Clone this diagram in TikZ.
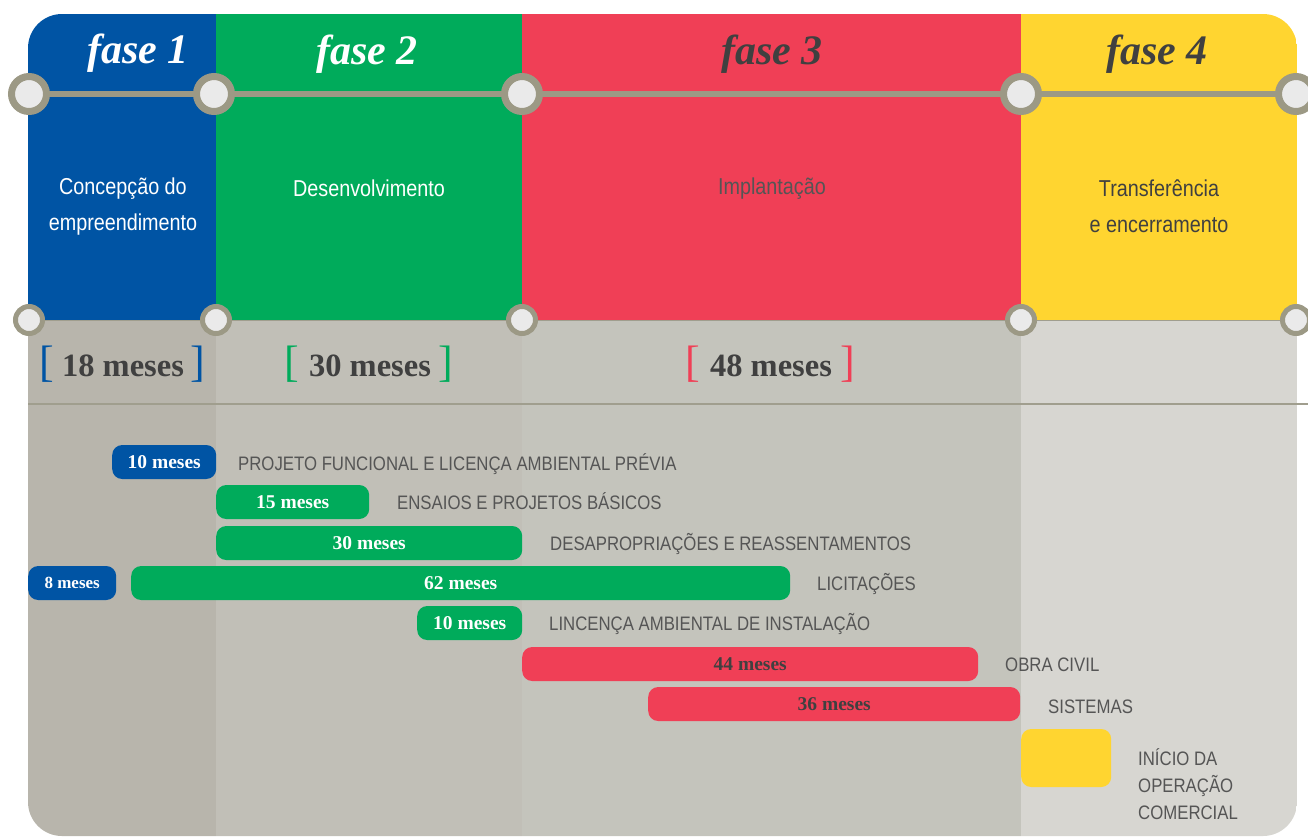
\documentclass[tikz,border=0pt]{standalone}
\usepackage{fontspec}
\setmainfont{Liberation Serif}
\newfontfamily\labfont[FakeStretch=0.86]{Liberation Sans}
\definecolor{fblue}{HTML}{0054A4}
\definecolor{fgreen}{HTML}{00AB5B}
\definecolor{fred}{HTML}{F03F56}
\definecolor{fyellow}{HTML}{FFD530}
\definecolor{ringgray}{HTML}{9C9985}
\definecolor{ringin}{HTML}{EAEAEA}
\definecolor{colA}{HTML}{B8B5AC}
\definecolor{colB}{HTML}{C1BFB7}
\definecolor{colC}{HTML}{C4C4BC}
\definecolor{colD}{HTML}{D7D6D1}
\definecolor{darktext}{HTML}{404040}
\definecolor{labtext}{HTML}{555555}
\definecolor{rule}{HTML}{A09E8E}
\begin{document}
\begin{tikzpicture}[x=1pt,y=-1pt,
  ringbig/.style={circle,draw=ringgray,fill=ringin,line width=7pt,minimum size=35pt,inner sep=0pt},
  ringsmall/.style={circle,draw=ringgray,fill=ringin,line width=5pt,minimum size=27pt,inner sep=0pt},
  fasetitle/.style={font=\fontsize{42}{42}\selectfont\bfseries\itshape,anchor=base,inner sep=0pt},
  phasedesc/.style={font=\labfont\fontsize{23}{36}\selectfont,align=center,inner sep=0pt},
  months/.style={font=\fontsize{32.5}{32.5}\selectfont\bfseries,text=darktext,inner sep=0pt},
  bracket/.style={font=\fontsize{44}{44}\selectfont,inner sep=0pt},
  bar/.style={rounded corners=10pt,minimum height=34pt,inner sep=0pt,anchor=west,
    font=\fontsize{19.5}{19.5}\selectfont\bfseries,text=white},
  tasklabel/.style={font=\labfont\fontsize{19.5}{27}\selectfont,text=labtext,anchor=base west,inner sep=0pt,align=left}
]
\useasboundingbox (0,0) rectangle (1308,839);
% panel
\begin{scope}
\clip[rounded corners=34pt] (28,14) rectangle (1297,836);
\fill[colA] (28,320) rectangle (216,840);
\fill[colB] (216,320) rectangle (522,840);
\fill[colC] (522,320) rectangle (1021,840);
\fill[colD] (1021,320) rectangle (1297,840);
\fill[fblue] (28,14) rectangle (216,320);
\fill[fgreen] (216,14) rectangle (522,320);
\fill[fred] (522,14) rectangle (1021,320);
\fill[fyellow] (1021,14) rectangle (1297,320);
\end{scope}
\draw[rule,line width=1pt] (28,320.5) -- (1297,320.5);
\draw[rule,line width=1.3pt] (28,404) -- (1308,404);
% top line and rings
\coordinate (t1) at (29,94);
\coordinate (t5) at (1296,94);
\draw[ringgray,line width=6pt] (t1) -- (t5);
\node[ringbig] (c1) at (29,94) {};
\node[ringbig] (c2) at (214,94) {};
\node[ringbig] (c3) at (522,94) {};
\node[ringbig] (c4) at (1021,94) {};
\node[ringbig] (c5) at (1296,94) {};
\node[ringsmall] (d1) at (29,320) {};
\node[ringsmall] (d2) at (216,320) {};
\node[ringsmall] (d3) at (522,320) {};
\node[ringsmall] (d4) at (1021,320) {};
\node[ringsmall] (d5) at (1296,320) {};
% titles
\node[fasetitle,text=white] (f1) at (138,63) {fase 1};
\node[fasetitle,text=white] (f2) at (367,64) {fase 2};
\node[fasetitle,text=darktext] (f3) at (772,64) {fase 3};
\node[fasetitle,text=darktext] (f4) at (1157,64) {fase 4};
% descriptions
\node[phasedesc,text=white] (p1) at (123,207) {Concepção do\\empreendimento};
\node[phasedesc,text=white] (p2) at (369,188) {Desenvolvimento};
\node[phasedesc,text=labtext] (p3) at (772,189) {Implantação};
\node[phasedesc,text=darktext] (p4) at (1159,206) {Transferência\\e encerramento};
% durations
\node[months] (m1) at (123,366) {18 meses};
\node[bracket,text=fblue] (m1l) at (47,364) {[};
\node[bracket,text=fblue] (m1r) at (198,364) {]};
\node[months] (m2) at (370,366) {30 meses};
\node[bracket,text=fgreen] (m2l) at (292,364) {[};
\node[bracket,text=fgreen] (m2r) at (446,364) {]};
\node[months] (m3) at (771,366) {48 meses};
\node[bracket,text=fred] (m3l) at (693,364) {[};
\node[bracket,text=fred] (m3r) at (848,364) {]};
% bars
\node[bar,fill=fblue,minimum width=104pt] (b1) at (112,462) {10 meses};
\node[tasklabel] (l1) at (238,470) {PROJETO FUNCIONAL E LICENÇA AMBIENTAL PRÉVIA};
\node[bar,fill=fgreen,minimum width=153pt] (b2) at (216,502) {15 meses};
\node[tasklabel] (l2) at (397,509) {ENSAIOS E PROJETOS BÁSICOS};
\node[bar,fill=fgreen,minimum width=306pt] (b3) at (216,543) {30 meses};
\node[tasklabel] (l3) at (550,550) {DESAPROPRIAÇÕES E REASSENTAMENTOS};
\node[bar,fill=fblue,minimum width=88pt,font=\fontsize{17}{17}\selectfont\bfseries] (b4a) at (28,583) {8 meses};
\node[bar,fill=fgreen,minimum width=659pt] (b4) at (131,583) {62 meses};
\node[tasklabel] (l4) at (817,590) {LICITAÇÕES};
\node[bar,fill=fgreen,minimum width=105pt] (b5) at (417,623) {10 meses};
\node[tasklabel] (l5) at (549,630) {LINCENÇA AMBIENTAL DE INSTALAÇÃO};
\node[bar,fill=fred,minimum width=456pt,text=darktext] (b6) at (522,664) {44 meses};
\node[tasklabel] (l6) at (1005,671) {OBRA CIVIL};
\node[bar,fill=fred,minimum width=372pt,text=darktext] (b7) at (648,704) {36 meses};
\node[tasklabel] (l7) at (1048,713) {SISTEMAS};
\node[bar,fill=fyellow,minimum width=90pt,minimum height=58pt] (b8) at (1021,758) {};
\node[tasklabel,anchor=north west] (l8) at (1138,748) {INÍCIO DA\\OPERAÇÃO\\COMERCIAL};
\end{tikzpicture}
\end{document}
